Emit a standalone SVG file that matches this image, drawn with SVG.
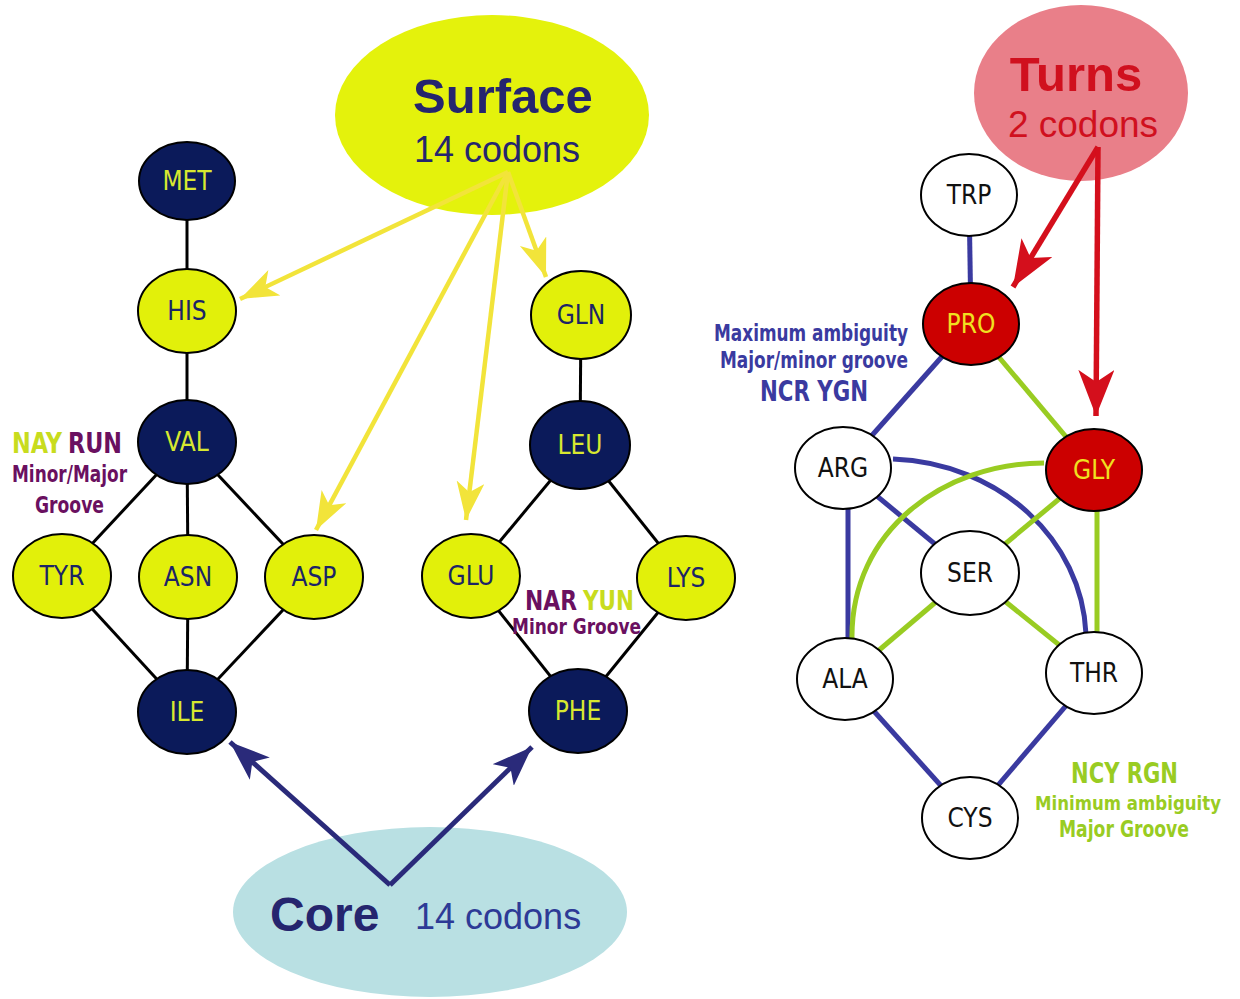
<svg xmlns="http://www.w3.org/2000/svg" width="1240" height="999" viewBox="0 0 1240 999">
<style>
.nd{stroke:#000;stroke-width:2}
.yl{fill:#e2f00a}
.nv{fill:#0b1a5a}
.wh{fill:#fff}
.rd{fill:#cc0000}
.nt{font-family:"DejaVu Sans Condensed","DejaVu Sans","Liberation Sans",sans-serif;font-size:26px;text-anchor:middle}
.tyl{fill:#1c2466}
.tnv{fill:#d8e830}
.twh{fill:#111}
.trd{fill:#f0e020}
.lab{font-family:"Liberation Sans Narrow","DejaVu Sans Condensed","Liberation Sans",sans-serif;font-weight:bold}
.big{font-family:"Liberation Sans",Arial,sans-serif}
.bk{stroke:#000;stroke-width:3;fill:none}
.bl{stroke:#3a3aa0;stroke-width:5;fill:none}
.gr{stroke:#99cc22;stroke-width:5;fill:none}
</style>
<defs>
<marker id="ay" markerUnits="userSpaceOnUse" markerWidth="40" markerHeight="30" refX="38" refY="14" orient="auto"><path d="M0,0 L38,14 L0,28 L10,14 z" fill="#f2e43a"/></marker>
<marker id="ar" markerUnits="userSpaceOnUse" markerWidth="48" markerHeight="38" refX="46" refY="18" orient="auto"><path d="M0,0 L46,18 L0,36 L12,18 z" fill="#d40f1c"/></marker>
<marker id="an" markerUnits="userSpaceOnUse" markerWidth="42" markerHeight="32" refX="40" refY="15" orient="auto"><path d="M0,0 L40,15 L0,30 L10,15 z" fill="#2a2a7a"/></marker>
</defs>
<rect width="1240" height="999" fill="#fff"/>

<g id="surface">
<ellipse cx="492" cy="115" rx="157" ry="100" fill="#e4f20c"/>
<text x="503" y="113" class="big" font-size="49" font-weight="bold" fill="#25256e" text-anchor="middle">Surface</text>
<text x="497" y="162" class="big" font-size="36" fill="#25256e" text-anchor="middle">14 codons</text>
</g>
<g id="turns">
<ellipse cx="1081" cy="93" rx="107" ry="88" fill="#e97f89"/>
<text x="1076" y="91" class="big" font-size="49" font-weight="bold" fill="#d0101e" text-anchor="middle">Turns</text>
<text x="1083" y="137" class="big" font-size="37" fill="#d0101e" text-anchor="middle">2 codons</text>
</g>
<g id="core">
<ellipse cx="430" cy="912" rx="197" ry="85" fill="#b9e0e3"/>
<text x="270" y="931" class="big" font-size="48" font-weight="bold" fill="#25256e">Core</text>
<text x="415" y="929" class="big" font-size="36" fill="#2d3a96">14 codons</text>
</g>

<g id="connectors">
<line class="bk" x1="187" y1="181" x2="187" y2="311"/>
<line class="bk" x1="187" y1="311" x2="187" y2="442"/>
<line class="bk" x1="187" y1="442" x2="62" y2="576"/>
<line class="bk" x1="187" y1="442" x2="188" y2="577"/>
<line class="bk" x1="187" y1="442" x2="314" y2="577"/>
<line class="bk" x1="62" y1="576" x2="187" y2="712"/>
<line class="bk" x1="188" y1="577" x2="187" y2="712"/>
<line class="bk" x1="314" y1="577" x2="187" y2="712"/>
<line class="bk" x1="581" y1="315" x2="580" y2="445"/>
<line class="bk" x1="580" y1="445" x2="471" y2="576"/>
<line class="bk" x1="580" y1="445" x2="686" y2="578"/>
<line class="bk" x1="471" y1="576" x2="578" y2="711"/>
<line class="bk" x1="686" y1="578" x2="578" y2="711"/>

<line class="bl" stroke-width="4" x1="969" y1="195" x2="971" y2="324"/>
<line class="bl" x1="971" y1="324" x2="843" y2="468"/>
<line class="gr" stroke-width="4" x1="971" y1="324" x2="1094" y2="470"/>
<line class="bl" x1="843" y1="468" x2="970" y2="573"/>
<line class="bl" x1="848" y1="468" x2="848" y2="679"/>
<path class="bl" d="M893,459 C1000,463 1082,540 1086,634"/>
<path class="gr" d="M1044,463 C945,463 850,530 852,640"/>
<line class="gr" x1="1094" y1="470" x2="970" y2="573"/>
<line class="gr" x1="1097" y1="470" x2="1097" y2="673"/>
<line class="gr" x1="970" y1="573" x2="845" y2="679"/>
<line class="gr" x1="970" y1="573" x2="1094" y2="673"/>
<line class="bl" x1="845" y1="679" x2="970" y2="818"/>
<line class="bl" x1="1094" y1="673" x2="970" y2="818"/>

<g stroke="#f2e43a" stroke-width="4.5" fill="none">
<line x1="508" y1="172" x2="240" y2="299" marker-end="url(#ay)"/>
<line x1="508" y1="172" x2="316" y2="530" marker-end="url(#ay)"/>
<line x1="508" y1="172" x2="466" y2="520" marker-end="url(#ay)"/>
<line x1="508" y1="172" x2="546" y2="277" marker-end="url(#ay)"/>
</g>
<g stroke="#d40f1c" stroke-width="5.5" fill="none">
<line x1="1098" y1="147" x2="1013" y2="287" marker-end="url(#ar)"/>
<line x1="1098" y1="147" x2="1096" y2="416" marker-end="url(#ar)"/>
</g>
<g stroke="#2a2a7a" stroke-width="5" fill="none">
<line x1="390" y1="885" x2="230" y2="742" marker-end="url(#an)"/>
<line x1="390" y1="885" x2="532" y2="747" marker-end="url(#an)"/>
</g>
</g>

<g id="MET"><ellipse class="nd nv" cx="187" cy="181" rx="48" ry="39"/><text class="nt tnv" x="187" y="190">MET</text></g>
<g id="HIS"><ellipse class="nd yl" cx="187" cy="311" rx="49" ry="42"/><text class="nt tyl" x="187" y="320">HIS</text></g>
<g id="VAL"><ellipse class="nd nv" cx="187" cy="442" rx="49" ry="42"/><text class="nt tnv" x="187" y="451">VAL</text></g>
<g id="TYR"><ellipse class="nd yl" cx="62" cy="576" rx="49" ry="42"/><text class="nt tyl" x="62" y="585">TYR</text></g>
<g id="ASN"><ellipse class="nd yl" cx="188" cy="577" rx="49" ry="42"/><text class="nt tyl" x="188" y="586">ASN</text></g>
<g id="ASP"><ellipse class="nd yl" cx="314" cy="577" rx="49" ry="42"/><text class="nt tyl" x="314" y="586">ASP</text></g>
<g id="ILE"><ellipse class="nd nv" cx="187" cy="712" rx="49" ry="42"/><text class="nt tnv" x="187" y="721">ILE</text></g>
<g id="GLN"><ellipse class="nd yl" cx="581" cy="315" rx="50" ry="44"/><text class="nt tyl" x="581" y="324">GLN</text></g>
<g id="LEU"><ellipse class="nd nv" cx="580" cy="445" rx="50" ry="44"/><text class="nt tnv" x="580" y="454">LEU</text></g>
<g id="GLU"><ellipse class="nd yl" cx="471" cy="576" rx="49" ry="42"/><text class="nt tyl" x="471" y="585">GLU</text></g>
<g id="LYS"><ellipse class="nd yl" cx="686" cy="578" rx="49" ry="42"/><text class="nt tyl" x="686" y="587">LYS</text></g>
<g id="PHE"><ellipse class="nd nv" cx="578" cy="711" rx="49" ry="42"/><text class="nt tnv" x="578" y="720">PHE</text></g>

<g id="TRP"><ellipse class="nd wh" cx="969" cy="195" rx="48" ry="41"/><text class="nt twh" x="969" y="204">TRP</text></g>
<g id="PRO"><ellipse class="nd rd" cx="971" cy="324" rx="48" ry="41"/><text class="nt trd" x="971" y="333">PRO</text></g>
<g id="ARG"><ellipse class="nd wh" cx="843" cy="468" rx="48" ry="41"/><text class="nt twh" x="843" y="477">ARG</text></g>
<g id="GLY"><ellipse class="nd rd" cx="1094" cy="470" rx="48" ry="41"/><text class="nt trd" x="1094" y="479">GLY</text></g>
<g id="SER"><ellipse class="nd wh" cx="970" cy="573" rx="49" ry="42"/><text class="nt twh" x="970" y="582">SER</text></g>
<g id="ALA"><ellipse class="nd wh" cx="845" cy="679" rx="48" ry="41"/><text class="nt twh" x="845" y="688">ALA</text></g>
<g id="THR"><ellipse class="nd wh" cx="1094" cy="673" rx="48" ry="41"/><text class="nt twh" x="1094" y="682">THR</text></g>
<g id="CYS"><ellipse class="nd wh" cx="970" cy="818" rx="48" ry="41"/><text class="nt twh" x="970" y="827">CYS</text></g>

<g id="labels" class="lab">
<text x="12" y="453" font-size="28" fill="#c8dc1e" textLength="50" lengthAdjust="spacingAndGlyphs">NAY</text>
<text x="68" y="453" font-size="28" fill="#6a1060" textLength="54" lengthAdjust="spacingAndGlyphs">RUN</text>
<text x="12" y="482" font-size="23" fill="#6a1060" textLength="115" lengthAdjust="spacingAndGlyphs">Minor/Major</text>
<text x="35" y="513" font-size="23" fill="#6a1060" textLength="69" lengthAdjust="spacingAndGlyphs">Groove</text>
<text x="525" y="610" font-size="27" fill="#6a1060" textLength="52" lengthAdjust="spacingAndGlyphs">NAR</text>
<text x="583" y="610" font-size="27" fill="#c8dc1e" textLength="51" lengthAdjust="spacingAndGlyphs">YUN</text>
<text x="512" y="634" font-size="21" fill="#6a1060" textLength="129" lengthAdjust="spacingAndGlyphs">Minor Groove</text>
<text x="714" y="341" font-size="23" fill="#3a3aa0" textLength="194" lengthAdjust="spacingAndGlyphs">Maximum ambiguity</text>
<text x="720" y="368" font-size="23" fill="#3a3aa0" textLength="188" lengthAdjust="spacingAndGlyphs">Major/minor groove</text>
<text x="760" y="401" font-size="28" fill="#3a3aa0" textLength="108" lengthAdjust="spacingAndGlyphs">NCR YGN</text>
<text x="1071" y="783" font-size="28" fill="#99cc22" textLength="107" lengthAdjust="spacingAndGlyphs">NCY RGN</text>
<text x="1035" y="810" font-size="20" fill="#99cc22" textLength="186" lengthAdjust="spacingAndGlyphs">Minimum ambiguity</text>
<text x="1059" y="837" font-size="23" fill="#99cc22" textLength="130" lengthAdjust="spacingAndGlyphs">Major Groove</text>
</g>
</svg>
